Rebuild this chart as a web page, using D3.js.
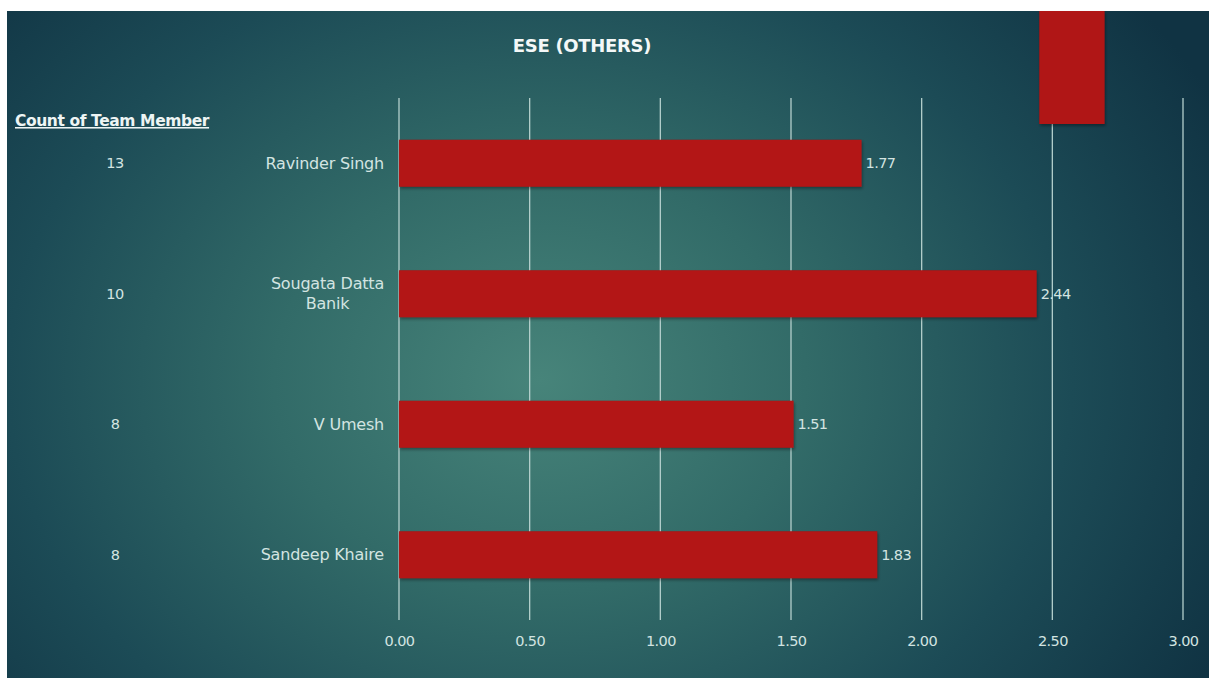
<!DOCTYPE html>
<html>
<head>
<meta charset="utf-8">
<script src="https://cdn.jsdelivr.net/npm/d3@7"></script>
<style>
  html, body { margin: 0; padding: 0; background: #ffffff; }
  svg { display: block; }
</style>
</head>
<body>
<svg id="chart" width="1209" height="680"></svg>
<script>
// Chart data
const title = "ESE (OTHERS)";
const countHeader = "Count of Team Member";
const members = ["Ravinder Singh", "Sougata Datta Banik", "V Umesh", "Sandeep Khaire"];
const memberLines = [["Ravinder Singh"], ["Sougata Datta", "Banik"], ["V Umesh"], ["Sandeep Khaire"]];
const scores = [1.77, 2.44, 1.51, 1.83];
const counts = [13, 10, 8, 8];
const xTicks = [0, 0.5, 1, 1.5, 2, 2.5, 3];
// extent (in axis units) of the partly hidden bar peeking in at the top of the slide
const stubExtent = [2.45, 2.70];

const svg = d3.select("#chart");
const W = 1209, H = 680;

const defs = svg.append("defs");
const bg = defs.append("radialGradient")
  .attr("id", "bgGrad")
  .attr("gradientUnits", "userSpaceOnUse")
  .attr("cx", 540).attr("cy", 380).attr("r", 760)
  .attr("fx", 540).attr("fy", 380)
  .attr("gradientTransform", "translate(540,380) scale(1,0.8) translate(-540,-380)");
bg.append("stop").attr("offset", "0%").attr("stop-color", "#47847a");
bg.append("stop").attr("offset", "35%").attr("stop-color", "#326b68");
bg.append("stop").attr("offset", "70%").attr("stop-color", "#1c4b56");
bg.append("stop").attr("offset", "100%").attr("stop-color", "#103343");

const shadow = defs.append("filter").attr("id", "barShadow")
  .attr("x", "-5%").attr("y", "-20%").attr("width", "110%").attr("height", "150%");
shadow.append("feDropShadow")
  .attr("dx", 1).attr("dy", 2).attr("stdDeviation", 1.5)
  .attr("flood-color", "#000").attr("flood-opacity", 0.35);

// slide background
svg.append("rect")
  .attr("x", 7).attr("y", 11)
  .attr("width", W - 7).attr("height", 678 - 11)
  .attr("fill", "url(#bgGrad)");

const x = d3.scaleLinear().domain([0, 3]).range([399, 1183]);
const y = d3.scaleBand().domain(members).range([98, 620]).paddingInner(0.64).paddingOuter(0.32);

const textColor = "#d3e4e1";
const font = "'DejaVu Sans', sans-serif";

// vertical gridlines
svg.append("g").selectAll("line")
  .data(xTicks).join("line")
  .attr("x1", d => x(d)).attr("x2", d => x(d))
  .attr("y1", 98).attr("y2", 620)
  .attr("stroke", "#b4d0cc").attr("stroke-width", 1.3);

// x-axis tick labels
const xAxis = d3.axisBottom(x).tickValues(xTicks).tickFormat(d3.format(".2f")).tickSize(0).tickPadding(0);
const gx = svg.append("g").attr("transform", "translate(0,636)").call(xAxis);
gx.select(".domain").remove();
gx.selectAll("text")
  .attr("fill", textColor)
  .attr("font-family", font)
  .attr("font-size", 14.5)
  .attr("letter-spacing", -0.6);

// partly hidden bar at top
svg.append("rect")
  .attr("x", x(stubExtent[0]))
  .attr("y", 11)
  .attr("width", x(stubExtent[1]) - x(stubExtent[0]))
  .attr("height", 124 - 11)
  .attr("fill", "#b01714")
  .attr("filter", "url(#barShadow)");

// bars
svg.append("g").selectAll("rect")
  .data(members).join("rect")
  .attr("x", x(0))
  .attr("y", d => y(d))
  .attr("width", (d, i) => x(scores[i]) - x(0))
  .attr("height", y.bandwidth())
  .attr("fill", "#b31613")
  .attr("filter", "url(#barShadow)");

// value labels
svg.append("g").selectAll("text")
  .data(members).join("text")
  .attr("x", (d, i) => x(scores[i]) + 4)
  .attr("y", d => y(d) + y.bandwidth() / 2)
  .attr("dy", "0.35em")
  .attr("fill", textColor)
  .attr("font-family", font)
  .attr("font-size", 14.5)
  .attr("letter-spacing", -0.6)
  .text((d, i) => scores[i].toFixed(2));

// category labels: block right-aligned to the axis, wrapped lines centred within it
const labelRight = 384;
const cat = svg.append("g").selectAll("text")
  .data(members).join("text")
  .attr("text-anchor", "middle")
  .attr("fill", textColor)
  .attr("font-family", font)
  .attr("font-size", 16)
  .attr("letter-spacing", -0.2);
cat.each(function(d, i) {
  const lines = memberLines[i];
  const t = d3.select(this);
  const lh = 20;
  lines.forEach((ln, j) => {
    t.append("tspan")
      .attr("x", 0)
      .attr("y", (j - (lines.length - 1) / 2) * lh)
      .attr("dy", "0.35em")
      .text(ln);
  });
  let maxW = 0;
  t.selectAll("tspan").each(function() { maxW = Math.max(maxW, this.getComputedTextLength()); });
  t.attr("transform", `translate(${labelRight - maxW / 2},${y(d) + y.bandwidth() / 2})`);
});

// team member counts
svg.append("g").selectAll("text")
  .data(members).join("text")
  .attr("x", 115)
  .attr("y", d => y(d) + y.bandwidth() / 2)
  .attr("dy", "0.35em")
  .attr("text-anchor", "middle")
  .attr("fill", textColor)
  .attr("font-family", font)
  .attr("font-size", 14.5)
  .attr("letter-spacing", -0.5)
  .text((d, i) => counts[i]);

// count header
svg.append("text")
  .attr("x", 15).attr("y", 126)
  .attr("fill", "#eef5f4")
  .attr("font-family", font)
  .attr("font-weight", "bold")
  .attr("font-size", 15.5)
  .attr("letter-spacing", -0.4)
  .attr("text-decoration", "underline")
  .text(countHeader);

// title
svg.append("text")
  .attr("x", 582).attr("y", 52)
  .attr("text-anchor", "middle")
  .attr("fill", "#f4f8f8")
  .attr("font-family", font)
  .attr("font-weight", "bold")
  .attr("font-size", 18)
  .attr("letter-spacing", -0.3)
  .text(title);
</script>
</body>
</html>
